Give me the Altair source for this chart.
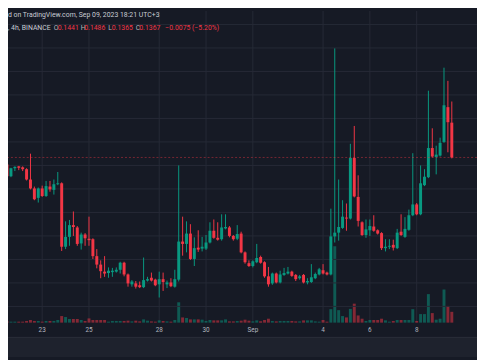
import altair as alt
import pandas as pd

# ---------------- data ----------------
START = "2023-08-21 12:00"  # open time (UTC) of the first 4h candle in view

OPEN = [
    0.1352, 0.1327, 0.1344, 0.1348, 0.1346, 0.1342, 0.1320, 0.1301, 0.1281, 0.1301,
    0.1285, 0.1305, 0.1298, 0.1310, 0.1312, 0.1177, 0.1198, 0.1223, 0.1218, 0.1184,
    0.1203, 0.1194, 0.1193, 0.1157, 0.1139, 0.1124, 0.1121, 0.1123, 0.1124, 0.1128,
    0.1143, 0.1118, 0.1097, 0.1099, 0.1095, 0.1091, 0.1105, 0.1111, 0.1107, 0.1097,
    0.1108, 0.1097, 0.1101, 0.1092, 0.1107, 0.1188, 0.1183, 0.1205, 0.1151, 0.1175,
    0.1173, 0.1173, 0.1186, 0.1211, 0.1196, 0.1193, 0.1216, 0.1218, 0.1200, 0.1194,
    0.1205, 0.1165, 0.1142, 0.1136, 0.1144, 0.1155, 0.1144, 0.1114, 0.1099, 0.1120,
    0.1101, 0.1117, 0.1120, 0.1124, 0.1117, 0.1110, 0.1117, 0.1101, 0.1102, 0.1110,
    0.1118, 0.1127, 0.1122, 0.1118, 0.1199, 0.1207, 0.1217, 0.1239, 0.1237, 0.1366,
    0.1283, 0.1229, 0.1202, 0.1212, 0.1220, 0.1212, 0.1206, 0.1174, 0.1177, 0.1181,
    0.1174, 0.1209, 0.1198, 0.1213, 0.1244, 0.1267, 0.1246, 0.1308, 0.1325, 0.1387,
    0.1368, 0.1371, 0.1400, 0.1474, 0.1441,
]
HIGH = [
    0.1354, 0.1345, 0.1348, 0.1349, 0.1348, 0.1344, 0.1375, 0.1305, 0.1303, 0.1307,
    0.1317, 0.1317, 0.1320, 0.1336, 0.1314, 0.1231, 0.1234, 0.1252, 0.1221, 0.1207,
    0.1206, 0.1241, 0.1195, 0.1172, 0.1148, 0.1157, 0.1133, 0.1132, 0.1133, 0.1145,
    0.1145, 0.1120, 0.1106, 0.1104, 0.1103, 0.1154, 0.1113, 0.1122, 0.1109, 0.1124,
    0.1122, 0.1105, 0.1110, 0.1128, 0.1350, 0.1241, 0.1231, 0.1225, 0.1197, 0.1212,
    0.1198, 0.1202, 0.1229, 0.1235, 0.1229, 0.1246, 0.1246, 0.1221, 0.1202, 0.1223,
    0.1209, 0.1167, 0.1148, 0.1148, 0.1183, 0.1158, 0.1146, 0.1134, 0.1122, 0.1122,
    0.1126, 0.1132, 0.1134, 0.1126, 0.1119, 0.1117, 0.1119, 0.1110, 0.1140, 0.1122,
    0.1132, 0.1140, 0.1124, 0.1258, 0.1599, 0.1320, 0.1276, 0.1269, 0.1396, 0.1434,
    0.1329, 0.1231, 0.1235, 0.1235, 0.1244, 0.1214, 0.1208, 0.1193, 0.1193, 0.1192,
    0.1215, 0.1246, 0.1240, 0.1256, 0.1376, 0.1270, 0.1350, 0.1342, 0.1509, 0.1429,
    0.1392, 0.1409, 0.1558, 0.1530, 0.1486,
]
LOW = [
    0.1325, 0.1325, 0.1338, 0.1340, 0.1338, 0.1318, 0.1299, 0.1276, 0.1271, 0.1283,
    0.1283, 0.1294, 0.1288, 0.1308, 0.1168, 0.1172, 0.1179, 0.1200, 0.1179, 0.1171,
    0.1179, 0.1179, 0.1151, 0.1131, 0.1110, 0.1113, 0.1111, 0.1113, 0.1122, 0.1120,
    0.1114, 0.1092, 0.1092, 0.1088, 0.1089, 0.1089, 0.1103, 0.1103, 0.1093, 0.1069,
    0.1083, 0.1089, 0.1091, 0.1090, 0.1103, 0.1158, 0.1165, 0.1149, 0.1136, 0.1166,
    0.1167, 0.1170, 0.1184, 0.1194, 0.1190, 0.1190, 0.1214, 0.1197, 0.1190, 0.1191,
    0.1163, 0.1141, 0.1134, 0.1133, 0.1142, 0.1141, 0.1111, 0.1092, 0.1096, 0.1099,
    0.1099, 0.1115, 0.1118, 0.1113, 0.1104, 0.1107, 0.1099, 0.1097, 0.1100, 0.1108,
    0.1116, 0.1118, 0.1116, 0.1116, 0.1186, 0.1190, 0.1215, 0.1211, 0.1235, 0.1282,
    0.1220, 0.1200, 0.1196, 0.1200, 0.1209, 0.1203, 0.1170, 0.1167, 0.1172, 0.1169,
    0.1172, 0.1200, 0.1196, 0.1211, 0.1242, 0.1244, 0.1244, 0.1306, 0.1323, 0.1367,
    0.1331, 0.1369, 0.1398, 0.1378, 0.1365,
]
CLOSE = [
    0.1327, 0.1344, 0.1347, 0.1345, 0.1342, 0.1320, 0.1301, 0.1278, 0.1301, 0.1285,
    0.1306, 0.1299, 0.1310, 0.1312, 0.1177, 0.1198, 0.1223, 0.1219, 0.1183, 0.1203,
    0.1195, 0.1191, 0.1157, 0.1139, 0.1125, 0.1120, 0.1126, 0.1126, 0.1128, 0.1143,
    0.1118, 0.1099, 0.1103, 0.1092, 0.1091, 0.1106, 0.1108, 0.1105, 0.1095, 0.1108,
    0.1102, 0.1101, 0.1093, 0.1108, 0.1188, 0.1183, 0.1205, 0.1151, 0.1174, 0.1171,
    0.1177, 0.1186, 0.1211, 0.1196, 0.1192, 0.1218, 0.1219, 0.1200, 0.1193, 0.1204,
    0.1165, 0.1144, 0.1136, 0.1146, 0.1153, 0.1143, 0.1114, 0.1097, 0.1120, 0.1101,
    0.1118, 0.1121, 0.1124, 0.1115, 0.1108, 0.1114, 0.1101, 0.1104, 0.1112, 0.1119,
    0.1129, 0.1120, 0.1118, 0.1199, 0.1207, 0.1219, 0.1241, 0.1237, 0.1366, 0.1284,
    0.1232, 0.1202, 0.1214, 0.1221, 0.1211, 0.1205, 0.1174, 0.1177, 0.1179, 0.1175,
    0.1207, 0.1202, 0.1215, 0.1244, 0.1267, 0.1246, 0.1312, 0.1326, 0.1387, 0.1369,
    0.1373, 0.1398, 0.1478, 0.1442, 0.1367,
]
VOLUME = [  # relative volume (M)
    1.3, 1.0, 1.0, 1.0, 1.0, 1.7, 2.7, 1.7, 1.7, 1.0,
    1.7, 1.7, 1.7, 2.7, 6.7, 5.7, 3.7, 3.7, 3.7, 2.7,
    1.7, 4.3, 2.7, 2.7, 2.7, 2.7, 1.0, 1.7, 1.7, 1.7,
    1.7, 2.0, 1.3, 2.0, 1.3, 3.3, 2.0, 1.3, 1.0, 2.3,
    1.7, 1.3, 1.0, 2.7, 20.7, 5.3, 4.7, 3.3, 3.3, 3.3,
    3.0, 1.7, 2.7, 2.3, 2.3, 2.3, 3.3, 1.3, 1.3, 1.7,
    2.0, 3.0, 2.0, 1.3, 2.3, 1.3, 2.7, 4.0, 1.7, 1.3,
    1.7, 1.7, 1.7, 1.7, 1.3, 1.3, 2.3, 2.3, 2.3, 1.3,
    1.0, 2.7, 1.0, 13.7, 77.7, 12.7, 6.7, 5.3, 14.0, 19.3,
    7.3, 4.0, 1.7, 2.7, 2.7, 2.7, 4.0, 2.3, 1.0, 1.7,
    2.7, 2.7, 2.7, 2.7, 13.7, 1.7, 8.7, 8.7, 29.0, 9.7,
    3.0, 4.0, 33.7, 17.0, 11.0,
]

TICK_DATES = ["2023-08-23", "2023-08-25", "2023-08-28", "2023-08-30",
              "2023-09-01", "2023-09-04", "2023-09-06", "2023-09-08"]
TICK_LABELS = ["23", "25", "28", "30", "Sep", "4", "6", "8"]
PRICE_GRID = [0.105, 0.110, 0.115, 0.120, 0.125, 0.130, 0.135,
              0.140, 0.145, 0.150, 0.155, 0.160, 0.165]

HEADER_LINE1 = "d on TradingView.com, Sep 09, 2023 18:21 UTC+3"
HEADER_SYMBOL = ", 4h, BINANCE"

# ---------------- styling ----------------
UP, DOWN = "#089981", "#f23645"
BG, GRID, TEXT, TEXT_HI = "#161a25", "#262a36", "#b2b5be", "#c9ccd4"
BAND, BAND_LINE = "#1e222d", "#2a2e39"
FONT = "Roboto"
W, H = 477, 317
X_DOMAIN = [1.5, 119.2]
Y_DOMAIN = [0.10155, 0.16787]
VOL_DOMAIN = [0, 317]

start = pd.Timestamp(START)
df = pd.DataFrame({
    "i": list(range(len(OPEN))),
    "open": OPEN, "high": HIGH, "low": LOW, "close": CLOSE, "volume": VOLUME,
})

tick_pos = [int(round((pd.Timestamp(d) - start) / pd.Timedelta(hours=4))) for d in TICK_DATES]
label_expr = " : ".join("datum.value == %d ? '%s'" % (p, s)
                        for p, s in zip(tick_pos, TICK_LABELS)) + " : ''"

x_scale = alt.Scale(domain=X_DOMAIN, nice=False, zero=False)
y_scale = alt.Scale(domain=Y_DOMAIN, nice=False, zero=False)
dir_color = alt.condition("datum.close >= datum.open", alt.value(UP), alt.value(DOWN))

base = alt.Chart(df)

# gridlines drawn as their own rule layers from the tick arrays
xgrid = alt.Chart(pd.DataFrame({"i": tick_pos, "lab": TICK_LABELS})).mark_rule(
    color=GRID, strokeWidth=1
).encode(x=alt.X("i:Q", scale=x_scale, axis=None))
xlabels = alt.Chart(pd.DataFrame({"i": tick_pos, "lab": TICK_LABELS})).mark_text(
    color=TEXT, font=FONT, fontSize=6.5, baseline="alphabetic", align="center"
).encode(x=alt.X("i:Q", scale=x_scale, axis=None), y=alt.value(H + 10), text="lab:N")
ygrid = alt.Chart(pd.DataFrame({"p": PRICE_GRID})).mark_rule(
    color=GRID, strokeWidth=1
).encode(y=alt.Y("p:Q", scale=y_scale, axis=None))

volume = base.mark_bar(size=3, opacity=0.5).encode(
    x=alt.X("i:Q", scale=x_scale, axis=None),
    y=alt.Y("volume:Q", scale=alt.Scale(domain=VOL_DOMAIN, nice=False), axis=None, stack=None),
    color=dir_color,
)
wicks = base.mark_rule(strokeWidth=1).encode(
    x=alt.X("i:Q", scale=x_scale, axis=None),
    y=alt.Y("low:Q", scale=y_scale, axis=None),
    y2="high:Q",
    color=dir_color,
)
bodies = base.mark_bar(size=3).encode(
    x=alt.X("i:Q", scale=x_scale, axis=None),
    y=alt.Y("open:Q", scale=y_scale, axis=None),
    y2="close:Q",
    color=dir_color,
)
last_price = alt.Chart(pd.DataFrame({"p": [CLOSE[-1]]})).mark_rule(
    color=DOWN, strokeDash=[2, 2], opacity=0.45, strokeWidth=1
).encode(y=alt.Y("p:Q", scale=y_scale, axis=None))

price = alt.layer(ygrid, wicks, bodies, last_price)

one = pd.DataFrame({"t": [""]})
band = alt.Chart(one).mark_rect(color=BAND).encode(
    x=alt.value(0), x2=alt.value(W), y=alt.value(332), y2=alt.value(352))
band_line = alt.Chart(one).mark_rule(color=BAND_LINE, strokeWidth=1).encode(
    x=alt.value(0), x2=alt.value(W), y=alt.value(332))


def label(s, x, y, color):
    return alt.Chart(pd.DataFrame({"t": [s]})).mark_text(
        align="left", baseline="alphabetic", font=FONT, fontSize=7, color=color
    ).encode(x=alt.value(x), y=alt.value(y), text="t:N")


chg = CLOSE[-1] - CLOSE[-2]
pct = chg / CLOSE[-2] * 100


def signed(v, fmt):
    return ("\u2212" if v < 0 else "+") + format(abs(v), fmt)


texts = [
    label(HEADER_LINE1, 0, 6.5, TEXT_HI),
    label(HEADER_SYMBOL, 0, 19, TEXT_HI),
    label("O", 46.5, 19, TEXT), label(f"{OPEN[-1]:.4f}", 50.5, 19, DOWN),
    label("H", 74, 19, TEXT), label(f"{HIGH[-1]:.4f}", 77.5, 19, DOWN),
    label("L", 102, 19, TEXT), label(f"{LOW[-1]:.4f}", 105.5, 19, DOWN),
    label("C", 130, 19, TEXT), label(f"{CLOSE[-1]:.4f}", 133.5, 19, DOWN),
    label(f"{signed(chg, '.4f')} ({signed(pct, '.2f')}%)", 160, 19, DOWN),
]

chart = alt.layer(xgrid, volume, price, xlabels, band, band_line, *texts).resolve_scale(
    y="independent"
).properties(
    width=W, height=H,
    autosize=alt.AutoSizeParams(type="none"),
    padding={"left": 0, "top": 0, "right": 0, "bottom": 35},
).configure(background=BG).configure_view(stroke=None)

chart.save("out.html", embed_options={"renderer": "svg", "actions": False})
